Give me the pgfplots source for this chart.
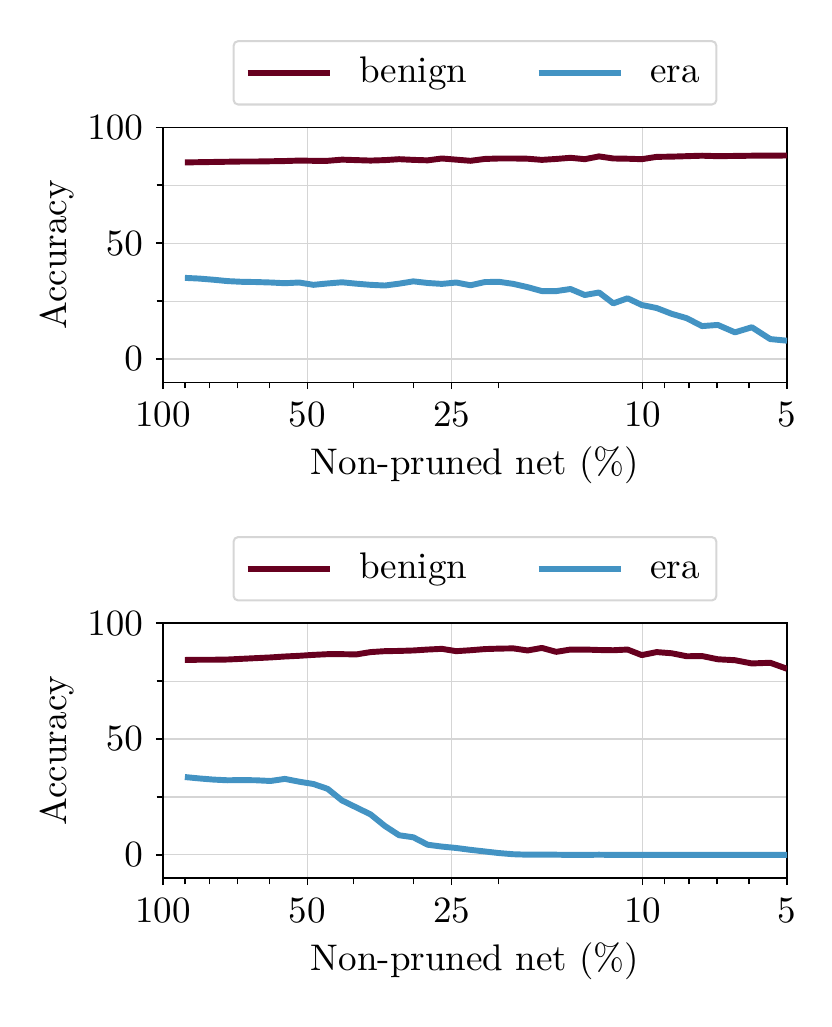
\documentclass[border=0pt]{standalone}
\usepackage{pgfplots}
\pgfplotsset{compat=1.18}
\usepackage{pgfplotstable}
\definecolor{benigncol}{HTML}{67001F}
\definecolor{eracol}{HTML}{4393C3}
\definecolor{gridcol}{HTML}{D5D5D5}
\definecolor{legcol}{HTML}{D6D6D6}

\pgfplotstableread{
x benign era
90.00 84.8 35.0
84.04 84.9 34.7
78.47 85.0 34.2
73.27 85.1 33.6
68.42 85.2 33.3
63.88 85.2 33.2
59.65 85.3 33.0
55.70 85.4 32.7
52.01 85.6 33.0
48.56 85.5 32.0
45.35 85.5 32.6
42.34 86.0 33.1
39.54 85.8 32.5
36.92 85.6 32.0
34.47 85.8 31.7
32.19 86.2 32.5
30.06 85.9 33.5
28.06 85.7 32.8
26.21 86.5 32.4
24.47 86.0 33.0
22.85 85.5 31.8
21.33 86.3 33.2
19.92 86.5 33.3
18.60 86.5 32.4
17.37 86.4 31.0
16.22 85.9 29.3
15.14 86.3 29.3
14.14 86.8 30.2
13.20 86.2 27.6
12.33 87.4 28.7
11.51 86.5 24.0
10.75 86.4 26.2
10.04 86.2 23.3
9.35 87.2 22.0
8.70 87.3 19.5
8.09 87.5 17.6
7.52 87.7 14.2
6.97 87.5 14.7
6.42 87.6 11.5
5.92 87.7 13.7
5.42 87.7 8.6
5.00 87.8 7.9
}\tabletop

\pgfplotstableread{
x benign era
90.00 84.1 33.6
84.04 84.2 33.0
78.47 84.2 32.5
73.27 84.3 32.2
68.42 84.6 32.3
63.88 84.9 32.2
59.65 85.2 31.9
55.70 85.6 32.8
52.01 85.9 31.6
48.56 86.3 30.6
45.35 86.6 28.5
42.34 86.6 23.5
39.54 86.5 20.5
36.92 87.5 17.5
34.47 87.9 12.5
32.19 88.0 8.5
30.06 88.2 7.6
28.06 88.6 4.4
26.21 88.9 3.6
24.47 87.9 3.0
22.85 88.3 2.2
21.33 88.8 1.5
19.92 89.0 0.8
18.60 89.1 0.3
17.37 88.2 0.1
16.22 89.3 0.1
15.14 87.6 0.1
14.14 88.6 0.0
13.20 88.6 0.0
12.33 88.4 0.1
11.51 88.3 0.0
10.75 88.6 0.0
10.04 86.2 0.0
9.35 87.5 0.0
8.70 87.0 0.0
8.09 85.7 0.0
7.52 85.8 0.0
6.97 84.4 0.0
6.42 84.0 0.0
5.92 82.6 0.0
5.42 82.9 0.0
5.00 80.3 0.0
}\tablebottom

\pgfplotsset{
  legend image code/.code={\draw[#1] (0pt,0pt) -- (22.2pt,0pt);},
}

\begin{document}
\begin{tikzpicture}
\useasboundingbox (-44.0pt,-40.2pt) rectangle (180.4pt,237.1pt);
\begin{axis}[
    at={(0pt,133.9pt)}, anchor=south west,
    scale only axis,
    width=168.5pt, height=68.85pt,
    xmode=log, x dir=reverse,
    xmin=5, xmax=100,
    ymin=-10, ymax=100,
    xtick={5,10,25,50,100},
    xticklabels={5,10,25,50,100},
    minor xtick={6,7,8,9,20,30,40,60,70,80,90},
    ytick={0,50,100},
    minor ytick={25,75},
    xmajorgrids, ymajorgrids, yminorgrids,
    major grid style={gridcol, line width=0.3pt},
    minor grid style={gridcol, line width=0.3pt},
    tick align=outside,
    tick pos=left,
    major tick length=1.9pt,
    minor tick length=1.7pt,
    tick style={black, line width=0.35pt},
    axis line style={black, line width=0.35pt},
    tick label style={font=\fontsize{10}{12}\selectfont},
    label style={font=\fontsize{10}{12}\selectfont},
    xlabel={Non-pruned net (\%)},
    ylabel={Accuracy},
    every axis x label/.style={at={(axis description cs:0.5,-0.325)}, anchor=center},
    every axis y label/.style={at={(axis description cs:-0.170,0.5)}, anchor=center, rotate=90},
    legend columns=2,
    legend style={
      at={(0.5,1.085)}, anchor=south,
      draw=legcol, line width=0.55pt, rounded corners=1.2pt,
      inner xsep=3pt, inner ysep=2.6pt,
      font=\fontsize{10}{12}\selectfont,
      nodes={inner sep=1.5pt, text height=6.95pt, text depth=1.95pt},
      /tikz/every odd column/.append style={column sep=5.6pt},
      /tikz/every even column/.append style={column sep=17pt},
    },
  ]
\addplot[benigncol, line width=1.6pt, line join=round] table[x=x, y=benign] {\tabletop};
\addlegendentry{benign}
\addplot[eracol, line width=1.6pt, line join=round] table[x=x, y=era] {\tabletop};
\addlegendentry{era}
\end{axis}
\begin{axis}[
    at={(0pt,0pt)}, anchor=south west,
    scale only axis,
    width=168.5pt, height=68.85pt,
    xmode=log, x dir=reverse,
    xmin=5, xmax=100,
    ymin=-10, ymax=100,
    xtick={5,10,25,50,100},
    xticklabels={5,10,25,50,100},
    minor xtick={6,7,8,9,20,30,40,60,70,80,90},
    ytick={0,50,100},
    minor ytick={25,75},
    xmajorgrids, ymajorgrids, yminorgrids,
    major grid style={gridcol, line width=0.3pt},
    minor grid style={gridcol, line width=0.3pt},
    tick align=outside,
    tick pos=left,
    major tick length=1.9pt,
    minor tick length=1.7pt,
    tick style={black, line width=0.35pt},
    axis line style={black, line width=0.35pt},
    tick label style={font=\fontsize{10}{12}\selectfont},
    label style={font=\fontsize{10}{12}\selectfont},
    xlabel={Non-pruned net (\%)},
    ylabel={Accuracy},
    every axis x label/.style={at={(axis description cs:0.5,-0.325)}, anchor=center},
    every axis y label/.style={at={(axis description cs:-0.170,0.5)}, anchor=center, rotate=90},
    legend columns=2,
    legend style={
      at={(0.5,1.085)}, anchor=south,
      draw=legcol, line width=0.55pt, rounded corners=1.2pt,
      inner xsep=3pt, inner ysep=2.6pt,
      font=\fontsize{10}{12}\selectfont,
      nodes={inner sep=1.5pt, text height=6.95pt, text depth=1.95pt},
      /tikz/every odd column/.append style={column sep=5.6pt},
      /tikz/every even column/.append style={column sep=17pt},
    },
  ]
\addplot[benigncol, line width=1.6pt, line join=round] table[x=x, y=benign] {\tablebottom};
\addlegendentry{benign}
\addplot[eracol, line width=1.6pt, line join=round] table[x=x, y=era] {\tablebottom};
\addlegendentry{era}
\end{axis}
\end{tikzpicture}
\end{document}
